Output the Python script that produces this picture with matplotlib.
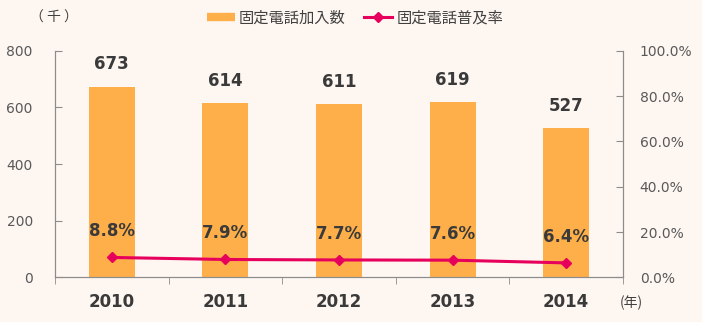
import matplotlib
matplotlib.use("Agg")
import matplotlib.pyplot as plt
from matplotlib.lines import Line2D

plt.rcParams['font.family'] = ['DejaVu Sans', 'Noto Sans CJK JP']

years = ['2010', '2011', '2012', '2013', '2014']
subscribers = [673, 614, 611, 619, 527]
rate = [8.8, 7.9, 7.7, 7.6, 6.4]

bg = '#FEF6F1'
bar_color = '#FFAF4A'
line_color = '#E6005C'
axis_color = '#8C8C8C'
label_color = '#3A3A3A'
jp = ['Noto Sans CJK JP', 'DejaVu Sans']

fig = plt.figure(figsize=(7.02, 3.22), dpi=100, facecolor=bg)
ax = fig.add_axes([55 / 702, 1 - 277.4 / 322, 568 / 702, 226.7 / 322])
ax.set_facecolor(bg)
x = list(range(len(years)))

ax.bar(x, subscribers, width=0.405, color=bar_color, zorder=2)
ax.set_xlim(-0.5, 4.5)
ax.set_ylim(0, 800)
ax.set_yticks([0, 200, 400, 600, 800])
ax.tick_params(axis='y', direction='in', length=5, color=axis_color,
               labelcolor='#595959', labelsize=10, pad=16)

ax.set_xticks(x)
ax.set_xticklabels(years, fontweight='bold', fontsize=12, color=label_color)
ax.tick_params(axis='x', length=0, pad=11)
ax.set_xticks([i - 0.5 for i in range(len(years) + 1)], minor=True)
ax.tick_params(axis='x', which='minor', direction='out', length=5, color=axis_color)

for s in ['left', 'bottom', 'right']:
    ax.spines[s].set_color(axis_color)
ax.spines['top'].set_visible(False)

# bar values
for i, v in enumerate(subscribers):
    ax.annotate(str(v), (i, v), xytext=(0, 16), textcoords='offset points',
                ha='center', va='center', fontsize=12, fontweight='bold',
                color=label_color)

ax2 = ax.twinx()
ax2.plot(x, rate, color=line_color, lw=2.2, marker='D', markersize=5, zorder=3)
ax2.set_ylim(0, 100)
ax2.set_yticks([0, 20, 40, 60, 80, 100])
ax2.set_yticklabels(['%.1f%%' % t for t in [0, 20, 40, 60, 80, 100]])
ax2.tick_params(axis='y', direction='in', length=5, color=axis_color,
                labelcolor='#595959', labelsize=10, pad=12)
for s in ['left', 'bottom', 'right']:
    ax2.spines[s].set_color(axis_color)
ax2.spines['top'].set_visible(False)

# rate values
for i, v in enumerate(rate):
    ax2.annotate('%.1f%%' % v, (i, v), xytext=(0, 19), textcoords='offset points',
                 ha='center', va='center', fontsize=12, fontweight='bold',
                 color=label_color)

handles = [
    Line2D([0], [0], color=bar_color, lw=6, solid_capstyle='butt'),
    Line2D([0], [0], color=line_color, lw=2.2, marker='D', markersize=5),
]
fig.legend(handles, ['固定電話加入数', '固定電話普及率'], loc='center',
           bbox_to_anchor=(355 / 702, 1 - 18 / 322), ncol=2, frameon=False,
           prop={'family': jp, 'size': 11}, handlelength=1.8, handletextpad=0.3,
           columnspacing=1.2, labelcolor='#404040')

fig.text(54 / 702, 1 - 18 / 322, '（ 千 ）', ha='center', va='center',
         family=jp, fontsize=10, color='#404040')
fig.text(631 / 702, 1 - 303 / 322, '(年)', ha='center', va='center',
         family=jp, fontsize=10, color='#404040')

fig.savefig('out.png', dpi=100, facecolor=bg)
